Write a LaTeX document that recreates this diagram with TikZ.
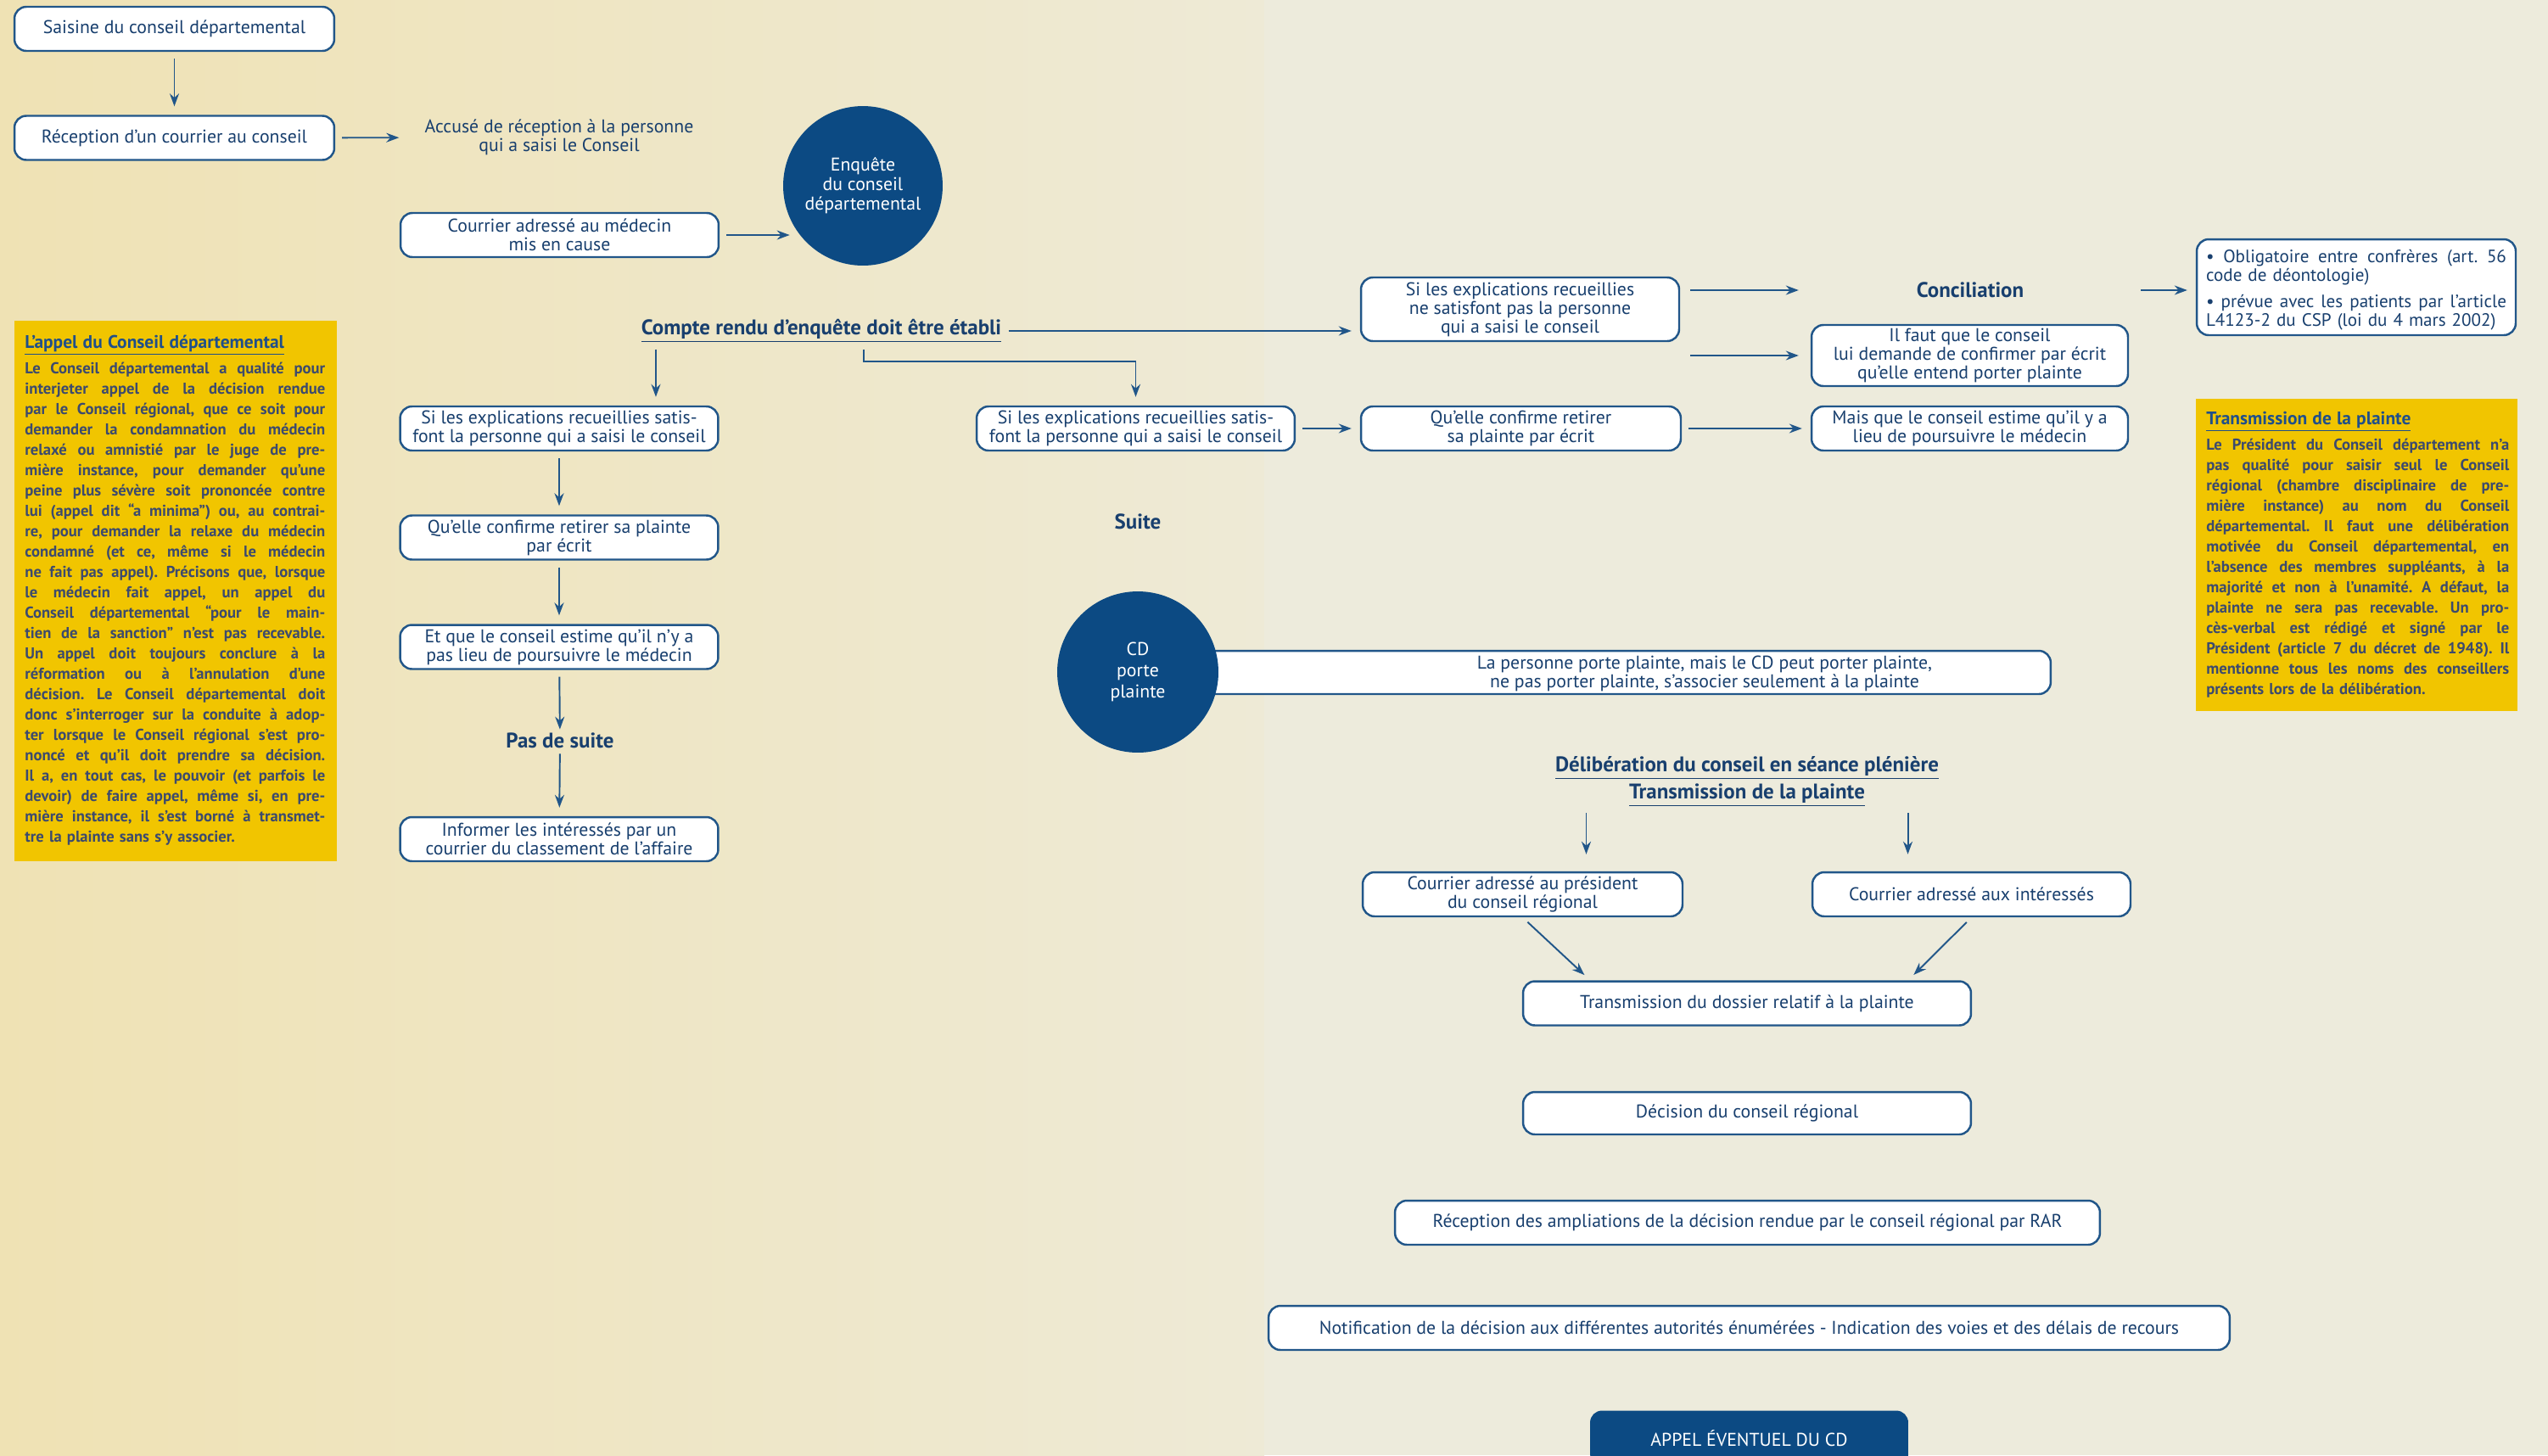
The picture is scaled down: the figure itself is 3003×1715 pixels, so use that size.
\documentclass[tikz,border=0pt]{standalone}
\usepackage{fontspec}
\setmainfont{PT Sans}
\usetikzlibrary{arrows.meta}
\setlength{\parindent}{0pt}
\definecolor{fond}{HTML}{EDEBDC}
\definecolor{fondg}{HTML}{EFE2B4}
\definecolor{fondm}{HTML}{EEEAD6}
\definecolor{bleu}{HTML}{0C4A83}
\definecolor{trait}{HTML}{215689}
\definecolor{encre}{HTML}{183F6E}
\definecolor{jaunef}{HTML}{F1C500}
\definecolor{encrej}{HTML}{3C4A6E}
\definecolor{titrej}{HTML}{1F4F8A}
\newcommand\jl[1]{\par\noindent\hbox to\linewidth{\frenchspacing\spaceskip=0.22em plus 1fil\relax#1}\par}
\newcommand\titrenote{\fontsize{12.2}{13.66}\selectfont\color{titrej}}
\begin{document}
\begin{tikzpicture}[x=0.02cm, y=-0.02cm,
	every node/.style={text=encre},
	texte/.style={font=\fontsize{12.4}{12.5}\selectfont, align=center, inner sep=0pt},
	boite/.style={texte, draw=trait, fill=white, line width=1.4pt, rounded corners=0.28cm, minimum width=7.5cm, minimum height=1.04cm},
	rond/.style={circle, fill=bleu, text=white, align=center, inner sep=0pt, font=\fontsize{12.4}{13.1}\selectfont},
	titre/.style={font=\fontsize{14.2}{16}\selectfont\bfseries, inner sep=0pt, align=center},
	fleche/.style={draw=trait, line width=1.1pt, -{Stealth[length=0.3cm, width=0.22cm]}, shorten <=0.16cm, shorten >=0.2cm},
	jaune/.style={fill=jaunef, inner sep=0pt, anchor=north west},
	note/.style={anchor=north west, inner sep=0pt, text width=7.08cm, text=encrej, font=\bfseries\fontsize{10.6}{13.66}\selectfont}
	]
	\useasboundingbox (0,0) rectangle (3003,1715);
	\shade[left color=fondg, right color=fondm] (0,0) rectangle (1490,1715);
	\fill[fond] (1490,0) rectangle (3003,1715);
	
	\node[boite, minimum width=7.54cm] (saisine) at (205.5,34) {Saisine du conseil départemental};
	\node[boite, minimum width=7.54cm] (reception) at (205.5,162.5) {Réception d’un courrier au conseil};
	\node[texte] (accuse) at (659,162) {Accusé de réception à la personne\\qui a saisi le Conseil};
	\node[boite] (courrier) at (659.5,277) {Courrier adressé au médecin\\mis en cause};
	\node[rond, minimum size=3.76cm] (enquete) at (1017,219) {Enquête\\du conseil\\départemental};
	\node[titre] (compte) at (968,390) {\underline{Compte rendu d’enquête doit être établi}};
	
	\node[boite] (satisA) at (659,505) {Si les explications recueillies satis-\\font la personne qui a saisi le conseil};
	\node[boite] (retirerA) at (659,633.5) {Qu’elle confirme retirer sa plainte\\par écrit};
	\node[boite] (estimeA) at (659,762.5) {Et que le conseil estime qu’il n’y a\\pas lieu de poursuivre le médecin};
	\node[titre] (passuite) at (660,873) {Pas de suite};
	\node[boite] (informer) at (659,989) {Informer les intéressés par un\\courrier du classement de l’affaire};
	
	\node[boite] (satisB) at (1338.5,505) {Si les explications recueillies satis-\\font la personne qui a saisi le conseil};
	\node[boite, minimum width=7.54cm] (retirerB) at (1792.5,505) {Qu’elle confirme retirer\\sa plainte par écrit};
	\node[titre] (suite) at (1341,615) {Suite};
	\node[boite, minimum width=21.52cm, minimum height=1.02cm] (cadrecd) at (1879,792.5) {};
	\node[texte] (textecd) at (2009,794) {La personne porte plainte, mais le CD peut porter plainte,\\ne pas porter plainte, s’associer seulement à la plainte};
	\node[rond, minimum size=3.8cm, font=\fontsize{12.4}{14.2}\selectfont] (cd) at (1341,792) {CD\\porte\\plainte};
	
	\node[boite, minimum height=1.5cm] (nonsatis) at (1791.5,364.5) {Si les explications recueillies\\ne satisfont pas la personne\\qui a saisi le conseil};
	\node[titre] (concil) at (2322,342) {Conciliation};
	\node[boite, text width=7.08cm, inner xsep=0.22cm, minimum height=2.26cm, align=left, font=\fontsize{12}{12.2}\selectfont] (oblig) at (2777,338.5) {%
		\jl{\textbullet\ Obligatoire entre confrères (art. 56}
		code de déontologie)\par\vspace{0.2cm}
		\jl{\textbullet\ prévue avec les patients par l’article}
		L4123-2 du CSP (loi du 4 mars 2002)};
	\node[boite, minimum width=7.46cm, minimum height=1.44cm] (faut) at (2321.5,419) {Il faut que le conseil\\lui demande de confirmer par écrit\\qu’elle entend porter plainte};
	\node[boite, minimum width=7.46cm] (mais) at (2321.5,505) {Mais que le conseil estime qu’il y a\\lieu de poursuivre le médecin};
	
	\node[titre] (delib) at (2059,905) {\underline{Délibération du conseil en séance plénière}};
	\node[titre] (transm) at (2059,937) {\underline{Transmission de la plainte}};
	\node[boite, minimum width=7.54cm] (president) at (1794.5,1054) {Courrier adressé au président\\du conseil régional};
	\node[boite] (interesses) at (2323.5,1054) {Courrier adressé aux intéressés};
	\node[boite, minimum width=10.56cm] (dossier) at (2059,1182.5) {Transmission du dossier relatif à la plainte};
	\node[boite, minimum width=10.56cm, minimum height=1cm] (decision) at (2059,1312) {Décision du conseil régional};
	\node[boite, minimum width=16.62cm] (ampli) at (2059.5,1441) {Réception des ampliations de la décision rendue par le conseil régional par RAR};
	\node[boite, minimum width=22.66cm] (notif) at (2061.5,1565) {Notification de la décision aux différentes autorités énumérées - Indication des voies et des délais de recours};
	\node[texte, fill=bleu, text=white, rounded corners=0.28cm, minimum width=7.5cm, minimum height=1.3cm] (appel) at (2061.5,1695) {APPEL ÉVENTUEL DU CD};
	
	\node[jaune, minimum width=7.6cm, minimum height=12.74cm] (fondappel) at (17,378) {};
	\node[note] (appelnote) at (29,395) {%
		{\titrenote\underline{L’appel du Conseil départemental}}\par\vspace{0.12cm}
		\jl{Le Conseil départemental a qualité pour}
		\jl{interjeter appel de la décision rendue}
		\jl{par le Conseil régional, que ce soit pour}
		\jl{demander la condamnation du médecin}
		\jl{relaxé ou amnistié par le juge de pre-}
		\jl{mière instance, pour demander qu’une}
		\jl{peine plus sévère soit prononcée contre}
		\jl{lui (appel dit “a minima”) ou, au contrai-}
		\jl{re, pour demander la relaxe du médecin}
		\jl{condamné (et ce, même si le médecin}
		\jl{ne fait pas appel). Précisons que, lorsque}
		\jl{le médecin fait appel, un appel du}
		\jl{Conseil départemental “pour le main-}
		\jl{tien de la sanction” n’est pas recevable.}
		\jl{Un appel doit toujours conclure à la}
		\jl{réformation ou à l’annulation d’une}
		\jl{décision. Le Conseil départemental doit}
		\jl{donc s’interroger sur la conduite à adop-}
		\jl{ter lorsque le Conseil régional s’est pro-}
		\jl{noncé et qu’il doit prendre sa décision.}
		\jl{Il a, en tout cas, le pouvoir (et parfois le}
		\jl{devoir) de faire appel, même si, en pre-}
		\jl{mière instance, il s’est borné à transmet-}
		tre la plainte sans s’y associer.};
	\node[jaune, minimum width=7.58cm, minimum height=7.36cm] (fondtransm) at (2588,470) {};
	\node[note, text width=7.14cm] (transmnote) at (2600,485) {%
		{\titrenote\underline{Transmission de la plainte}}\par\vspace{0.12cm}
		\jl{Le Président du Conseil département n’a}
		\jl{pas qualité pour saisir seul le Conseil}
		\jl{régional (chambre disciplinaire de pre-}
		\jl{mière instance) au nom du Conseil}
		\jl{départemental. Il faut une délibération}
		\jl{motivée du Conseil départemental, en}
		\jl{l’absence des membres suppléants, à la}
		\jl{majorité et non à l’unamité. A défaut, la}
		\jl{plainte ne sera pas recevable. Un pro-}
		\jl{cès-verbal est rédigé et signé par le}
		\jl{Président (article 7 du décret de 1948). Il}
		\jl{mentionne tous les noms des conseillers}
		présents lors de la délibération.};
	
	\draw[fleche] (saisine) -- (reception);
	\draw[fleche, shorten >=0.6cm] (reception) -- (accuse);
	\draw[fleche, shorten >=0pt] (courrier.east) -- ([xshift=0.16cm]courrier.east -| enquete.west);
	\draw[fleche] ([xshift=2.28cm]satisA.north |- compte.south) -- ([xshift=2.28cm]satisA.north);
	\draw[fleche] ([xshift=1cm]compte.south) -- ++(0,22) -| (satisB.north);
	\draw[fleche] (compte.east) -- (compte.east -| nonsatis.west);
	
	\draw[fleche] (satisA) -- (retirerA);
	\draw[fleche] (retirerA) -- (estimeA);
	\draw[fleche, shorten >=0.08cm] (estimeA) -- (passuite);
	\draw[fleche, shorten <=0.12cm] (passuite) -- (informer);
	
	\draw[fleche] (satisB) -- (retirerB);
	\draw[fleche] (retirerB) -- (mais);
	\draw[fleche, shorten <=0.24cm, shorten >=0.28cm] (nonsatis.east |- concil) -- (faut.west |- concil);
	\draw[fleche, shorten <=0.24cm, shorten >=0.28cm] (nonsatis.east |- faut.west) -- (faut.west);
	\draw[fleche, shorten <=0.28cm] (faut.east |- concil) -- (oblig.west |- concil);
	
	\draw[fleche, shorten >=0.4cm] ([xshift=1.5cm]president.north |- transm.south) -- ([xshift=1.5cm]president.north);
	\draw[fleche, shorten >=0.4cm] ([xshift=-1.5cm]interesses.north |- transm.south) -- ([xshift=-1.5cm]interesses.north);
	\draw[fleche, shorten >=0.18cm] (president.south) -- ([xshift=-3.7cm]dossier.north);
	\draw[fleche, shorten >=0.18cm] (interesses.south) -- ([xshift=3.8cm]dossier.north);
\end{tikzpicture}
\end{document}
